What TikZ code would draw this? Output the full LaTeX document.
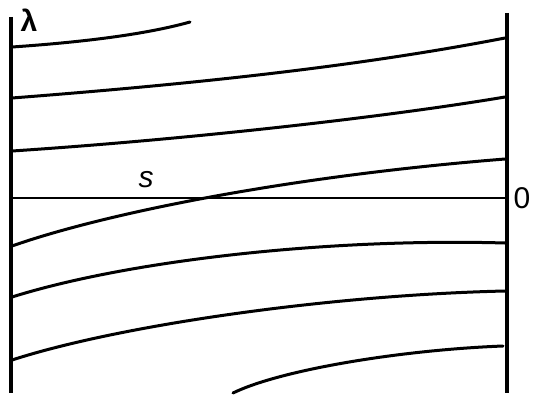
\documentclass[tikz,border=0pt]{standalone}
\usepackage{fontspec}
\setmainfont{Liberation Sans}
\begin{document}
\begin{tikzpicture}[x=1pt,y=-1pt,
  axis/.style={line width=4.5pt},
  curve/.style={line width=3pt,line cap=round},
  base/.style={line width=2.2pt},
  lbl/.style={inner sep=0pt,font=\fontsize{30}{30}\selectfont}]
\useasboundingbox (0,0) rectangle (535,404);
\coordinate (LT) at (11,17);
\coordinate (LB) at (11,393);
\coordinate (RT) at (507,13);
\coordinate (RB) at (507,393);
\coordinate (HL) at (11,198);
\coordinate (HR) at (507,198);
\draw[axis] (LT) -- (LB);
\draw[axis] (RT) -- (RB);
\draw[base] (HL) -- (HR);
\draw[curve] (12,47) .. controls (70,43) and (140,36) .. (190,22);
\draw[curve] (12,98) .. controls (180,85) and (350,68) .. (505,38);
\draw[curve] (12,151) .. controls (180,140) and (380,118) .. (505,97);
\draw[curve] (12,246) .. controls (100,215) and (280,177) .. (505,159);
\draw[curve] (12,297) .. controls (130,260) and (330,238) .. (505,243);
\draw[curve] (12,360) .. controls (120,325) and (330,295) .. (505,291);
\draw[curve] (233,393) .. controls (280,370) and (400,350) .. (503,346);
\node[lbl,font=\fontsize{30}{30}\selectfont\bfseries] (lam) at (29,20) {λ};
\node[lbl,font=\fontsize{30}{30}\selectfont\itshape] (s) at (146,180) {s};
\node[lbl] (zero) at (522,198) {0};
\end{tikzpicture}
\end{document}
